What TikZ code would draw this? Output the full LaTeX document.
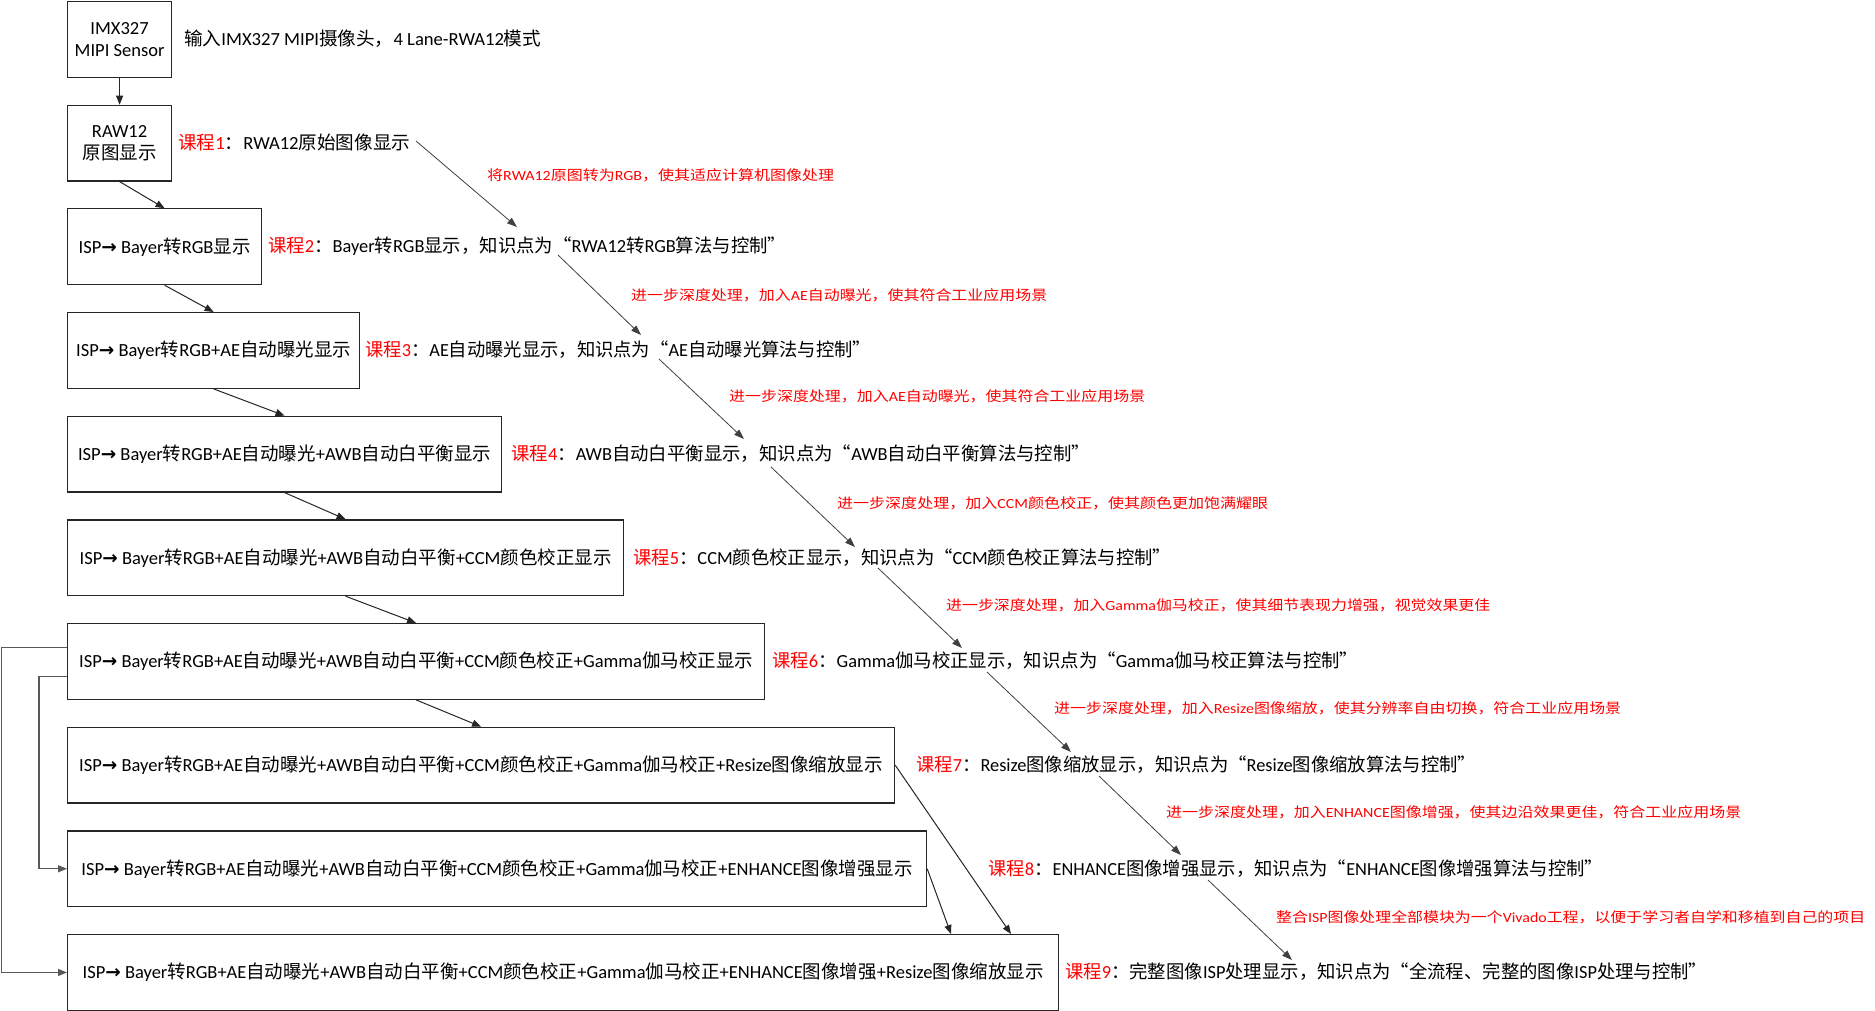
\documentclass[tikz,border=0pt]{standalone}
\usepackage{fontspec}
\usepackage{graphicx}
\usetikzlibrary{arrows.meta}
\setmainfont{Carlito}
\newfontfamily\cjkf{Noto Sans CJK SC}
\newfontfamily\arrf{DejaVu Sans}
% automatic switch to the CJK font for CJK characters
\chardef\CJKcls=10
\newcount\cjkcnt
\newcommand\cjkrange[2]{%
  \cjkcnt=#1
  \loop \XeTeXcharclass\cjkcnt=\CJKcls \ifnum\cjkcnt<#2 \advance\cjkcnt by 1 \repeat}
\cjkrange{"4E00}{"9FFF}
\cjkrange{"3000}{"303F}
\cjkrange{"FF00}{"FFEF}
\XeTeXcharclass"201C=\CJKcls
\XeTeXcharclass"201D=\CJKcls
\XeTeXinterchartoks 0 \CJKcls = {\begingroup\cjkf}
\XeTeXinterchartoks 4095 \CJKcls = {\begingroup\cjkf}
\XeTeXinterchartoks \CJKcls 0 = {\endgroup}
\XeTeXinterchartoks \CJKcls 4095 = {\endgroup}
\XeTeXinterchartokenstate=1
\newcommand\bxfont{\fontsize{18.5pt}{22pt}\selectfont}
\newcommand\rdfont{\fontsize{14pt}{16pt}\selectfont\color{red}}
\newcommand\isparr{ISP{\arrf\bfseries →}}
\begin{document}
\begin{tikzpicture}[x=1pt,y=-1pt,
  bx/.style={draw=black!85, line width=1.2pt, anchor=north west, minimum height=75.7pt, inner sep=2pt, align=center, font=\bxfont},
  lb/.style={anchor=west, inner sep=0pt, font=\bxfont},
  rd/.style={anchor=west, inner sep=0pt, font=\rdfont},
  flow/.style={draw=black!85, line width=1pt, -{Triangle[length=9pt,width=7pt]}},
  note/.style={draw=black!75, line width=0.8pt, -{Triangle[length=10pt,width=7pt]}},
  back/.style={draw=black!65, line width=1.4pt, -{Triangle[length=9pt,width=7pt]}}]
\fill[white] (0,0) rectangle (1875,1011);
\useasboundingbox (0,0) rectangle (1875,1011);
% boxes
\node[bx, minimum width=104pt] (b0) at (67,1) {IMX327\\MIPI Sensor};
\node[bx, minimum width=104pt] (b1) at (67,104.7) {RAW12\\原图显示};
\node[bx, minimum width=194pt] (b2) at (67,208.3) {\isparr{} Bayer转RGB显示};
\node[bx, minimum width=292pt] (b3) at (67,312) {\isparr{} Bayer转RGB+AE自动曝光显示};
\node[bx, minimum width=434pt] (b4) at (67,415.7) {\isparr{} Bayer转RGB+AE自动曝光+AWB自动白平衡显示};
\node[bx, minimum width=556pt] (b5) at (67,519.3) {\isparr{} Bayer转RGB+AE自动曝光+AWB自动白平衡+CCM颜色校正显示};
\node[bx, minimum width=697pt] (b6) at (67,623) {\isparr{} Bayer转RGB+AE自动曝光+AWB自动白平衡+CCM颜色校正+Gamma伽马校正显示};
\node[bx, minimum width=827pt] (b7) at (67,726.7) {\isparr{} Bayer转RGB+AE自动曝光+AWB自动白平衡+CCM颜色校正+Gamma伽马校正+Resize图像缩放显示};
\node[bx, minimum width=859pt] (b8) at (67,830.3) {\isparr{} Bayer转RGB+AE自动曝光+AWB自动白平衡+CCM颜色校正+Gamma伽马校正+ENHANCE图像增强显示};
\node[bx, minimum width=991pt] (b9) at (67,934) {\isparr{} Bayer转RGB+AE自动曝光+AWB自动白平衡+CCM颜色校正+Gamma伽马校正+ENHANCE图像增强+Resize图像缩放显示};
% black labels
\node[lb] (l0) at (184,39) {\resizebox{357pt}{\height}{输入IMX327 MIPI摄像头，4 Lane-RWA12模式}};
\node[lb] (l1) at (178,142.7) {\resizebox{232pt}{\height}{\textcolor{red}{课程1}：RWA12原始图像显示}};
\node[lb] (l2) at (268,246.3) {\resizebox{518pt}{\height}{\textcolor{red}{课程2}：Bayer转RGB显示，知识点为“RWA12转RGB算法与控制”}};
\node[lb] (l3) at (365,350) {\resizebox{506pt}{\height}{\textcolor{red}{课程3}：AE自动曝光显示，知识点为“AE自动曝光算法与控制”}};
\node[lb] (l4) at (511,453.7) {\resizebox{579pt}{\height}{\textcolor{red}{课程4}：AWB自动白平衡显示，知识点为“AWB自动白平衡算法与控制”}};
\node[lb] (l5) at (633,557.3) {\resizebox{538pt}{\height}{\textcolor{red}{课程5}：CCM颜色校正显示，知识点为“CCM颜色校正算法与控制”}};
\node[lb] (l6) at (772,661) {\resizebox{586pt}{\height}{\textcolor{red}{课程6}：Gamma伽马校正显示，知识点为“Gamma伽马校正算法与控制”}};
\node[lb] (l7) at (916,764.7) {\resizebox{560pt}{\height}{\textcolor{red}{课程7}：Resize图像缩放显示，知识点为“Resize图像缩放算法与控制”}};
\node[lb] (l8) at (988,868.3) {\resizebox{615pt}{\height}{\textcolor{red}{课程8}：ENHANCE图像增强显示，知识点为“ENHANCE图像增强算法与控制”}};
\node[lb] (l9) at (1065,972) {\resizebox{642pt}{\height}{\textcolor{red}{课程9}：完整图像ISP处理显示，知识点为“全流程、完整的图像ISP处理与控制”}};
% red notes
\node[rd] (r1) at (487,175) {\resizebox{347pt}{\height}{将RWA12原图转为RGB，使其适应计算机图像处理}};
\node[rd] (r2) at (631,295) {\resizebox{416pt}{\height}{进一步深度处理，加入AE自动曝光，使其符合工业应用场景}};
\node[rd] (r3) at (729,396) {\resizebox{416pt}{\height}{进一步深度处理，加入AE自动曝光，使其符合工业应用场景}};
\node[rd] (r4) at (837,503) {\resizebox{431pt}{\height}{进一步深度处理，加入CCM颜色校正，使其颜色更加饱满耀眼}};
\node[rd] (r5) at (946,605) {\resizebox{544pt}{\height}{进一步深度处理，加入Gamma伽马校正，使其细节表现力增强，视觉效果更佳}};
\node[rd] (r6) at (1054,708) {\resizebox{567pt}{\height}{进一步深度处理，加入Resize图像缩放，使其分辨率自由切换，符合工业应用场景}};
\node[rd] (r7) at (1166,812) {\resizebox{575pt}{\height}{进一步深度处理，加入ENHANCE图像增强，使其边沿效果更佳，符合工业应用场景}};
\node[rd] (r8) at (1276,917) {\resizebox{589pt}{\height}{整合ISP图像处理全部模块为一个Vivado工程，以便于学习者自学和移植到自己的项目}};
% box flow
\draw[flow] (b0.south) -- (b1.north);
\draw[flow] (b1.south) -- (b2.north);
\draw[flow] (b2.south) -- (b3.north);
\draw[flow] (b3.south) -- (b4.north);
\draw[flow] (b4.south) -- (b5.north);
\draw[flow] (b5.south) -- (b6.north);
\draw[flow] (b6.south) -- (b7.north);
\draw[flow] (b7.east) -- ([xshift=944pt]b9.north west);
\draw[flow] (b8.east) -- ([xshift=884pt]b9.north west);
\draw[back] ([yshift=14pt]b6.west) -- ++(-65.5,0) |- (b9.west);
\draw[back] ([yshift=-15pt]b6.west) -- ++(-28,0) |- (b8.west);
% note arrows
\coordinate (a1s) at (416,141);  \coordinate (a1e) at (517,227);
\coordinate (a2s) at (558,255);  \coordinate (a2e) at (641,335);
\coordinate (a3s) at (659,359);  \coordinate (a3e) at (744,439);
\coordinate (a4s) at (771,467);  \coordinate (a4e) at (855,547);
\coordinate (a5s) at (878,568);  \coordinate (a5e) at (962,648);
\coordinate (a6s) at (987,672);  \coordinate (a6e) at (1071,752);
\coordinate (a7s) at (1099,776); \coordinate (a7e) at (1181,855);
\coordinate (a8s) at (1208,880); \coordinate (a8e) at (1292,960);
\draw[note] (a1s) -- (a1e);
\draw[note] (a2s) -- (a2e);
\draw[note] (a3s) -- (a3e);
\draw[note] (a4s) -- (a4e);
\draw[note] (a5s) -- (a5e);
\draw[note] (a6s) -- (a6e);
\draw[note] (a7s) -- (a7e);
\draw[note] (a8s) -- (a8e);
\end{tikzpicture}
\end{document}
